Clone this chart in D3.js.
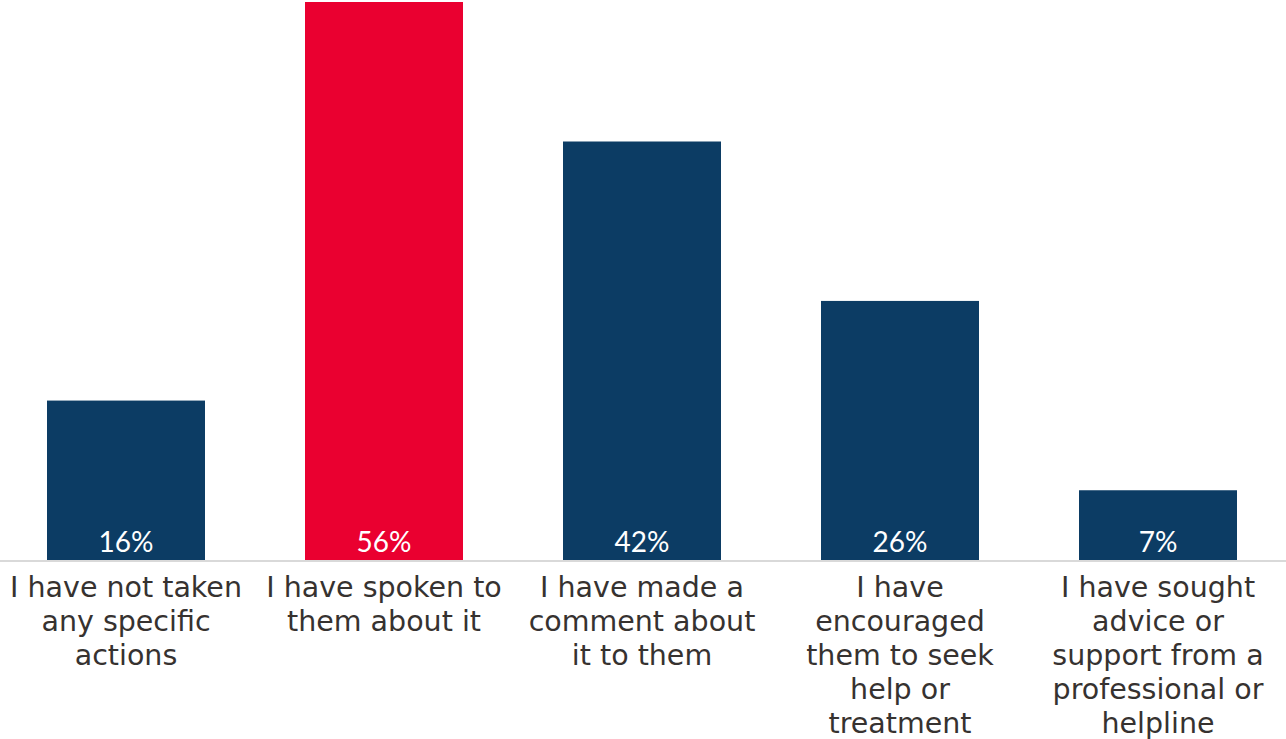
<!DOCTYPE html>
<html>
<head>
<meta charset="utf-8">
<script src="https://cdn.jsdelivr.net/npm/d3@7"></script>
<style>
  html, body { margin: 0; padding: 0; background: #fff; }
  svg { display: block; }
</style>
</head>
<body>
<svg id="chart" width="1286" height="739"></svg>
<script>
const categories = [
  "I have not taken any specific actions",
  "I have spoken to them about it",
  "I have made a comment about it to them",
  "I have encouraged them to seek help or treatment",
  "I have sought advice or support from a professional or helpline"
];
const labelLines = [
  ["I have not taken", "any specific", "actions"],
  ["I have spoken to", "them about it"],
  ["I have made a", "comment about", "it to them"],
  ["I have", "encouraged", "them to seek", "help or", "treatment"],
  ["I have sought", "advice or", "support from a", "professional or", "helpline"]
];
const values = [16, 56, 42, 26, 7];
const highlight = [false, true, false, false, false];

const W = 1286, H = 739;
const baseY = 560, topY = 2;
const svg = d3.select("#chart");

const x = d3.scaleBand().domain(categories).range([-3, 1287]).paddingInner(100/258).paddingOuter(50/258);
const y = d3.scaleLinear().domain([0, 56]).range([baseY, topY]);

svg.selectAll("rect.bar").data(values).join("rect")
  .attr("class", "bar")
  .attr("x", (d, i) => x(categories[i]))
  .attr("width", x.bandwidth())
  .attr("y", d => y(d))
  .attr("height", d => baseY - y(d))
  .attr("fill", (d, i) => highlight[i] ? "#ea0030" : "#0c3c64");

svg.append("line")
  .attr("x1", 0).attr("x2", W)
  .attr("y1", baseY + 1).attr("y2", baseY + 1)
  .attr("stroke", "#d9d9d9").attr("stroke-width", 2);

svg.selectAll("text.val").data(values).join("text")
  .attr("class", "val")
  .attr("x", (d, i) => x(categories[i]) + x.bandwidth() / 2)
  .attr("y", baseY - 8)
  .attr("text-anchor", "middle")
  .attr("fill", "#fff")
  .style("font-family", "Lato, sans-serif")
  .style("font-size", "28px")
  .text(d => d + "%");

const rows = [];
labelLines.forEach((lines, i) => lines.forEach((ln, j) => rows.push({ cat: categories[i], ln, j })));

svg.selectAll("text.cat").data(rows).join("text")
  .attr("class", "cat")
  .attr("x", d => x(d.cat) + x.bandwidth() / 2)
  .attr("y", d => 597 + d.j * 34)
  .attr("text-anchor", "middle")
  .attr("fill", "#363230")
  .style("font-family", "'DejaVu Sans', sans-serif")
  .style("font-size", "28.5px")
  .text(d => d.ln);
</script>
</body>
</html>
